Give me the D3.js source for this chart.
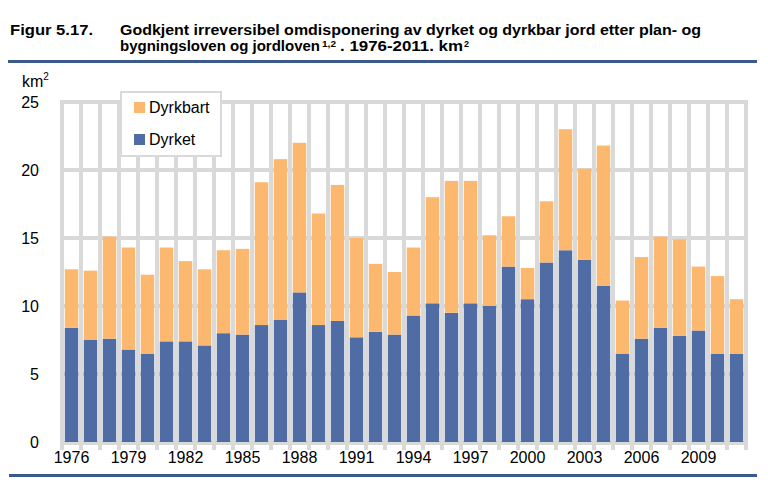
<!DOCTYPE html>
<html>
<head>
<meta charset="utf-8">
<script src="https://cdn.jsdelivr.net/npm/d3@7"></script>
<style>
  html, body { margin: 0; padding: 0; background: #fff; }
  svg { display: block; font-family: "Liberation Sans", Arial, sans-serif; }
</style>
</head>
<body>
<svg id="chart" width="768" height="482"></svg>
<script>
// ---- Data (km²) ----
const years = d3.range(1976, 2012);
const dyrket = [8.4, 7.5, 7.6, 6.8, 6.5, 7.4, 7.4, 7.1, 8.0, 7.9,
                8.6, 9.0, 11.0, 8.6, 8.9, 7.7, 8.1, 7.9, 9.3, 10.2,
                9.5, 10.2, 10.0, 12.9, 10.5, 13.2, 14.1, 13.4, 11.5, 6.5,
                7.6, 8.4, 7.8, 8.2, 6.5, 6.5];
const dyrkbart = [4.3, 5.1, 7.5, 7.5, 5.8, 6.9, 5.9, 5.6, 6.1, 6.3,
                  10.5, 11.8, 11.0, 8.2, 10.0, 7.3, 5.0, 4.6, 5.0, 7.8,
                  9.7, 9.0, 5.2, 3.7, 2.3, 4.5, 8.9, 6.7, 10.3, 3.9,
                  6.0, 6.7, 7.1, 4.7, 5.7, 4.0];
const yTicks = [0, 5, 10, 15, 20, 25];
const xTickYears = [1976, 1979, 1982, 1985, 1988, 1991, 1994, 1997, 2000, 2003, 2006, 2009];
const seriesNames = ["Dyrket", "Dyrkbart"];
const colors = { Dyrket: "#4F6CA5", Dyrkbart: "#FDB86F" };
const gridColor = "#D9D9D9";
const ruleColor = "#3B5A8C";

const svg = d3.select("#chart");

// ---- Title ----
const title = svg.append("g").attr("font-weight", "bold").attr("fill", "#000").attr("font-size", 14);
function fitText(txt, xPos, yPos, len, size) {
  const t = title.append("text").attr("x", xPos).attr("y", yPos).text(txt);
  if (size) t.attr("font-size", size);
  if (len) t.attr("textLength", len).attr("lengthAdjust", "spacingAndGlyphs");
  return t;
}
fitText("Figur 5.17.", 10, 35, 83);
fitText("Godkjent irreversibel omdisponering av dyrket og dyrkbar jord etter plan- og", 120, 35, 581);
fitText("bygningsloven og jordloven", 120, 51, 200);
fitText("1,2", 322, 46.5, 14, 9);
fitText(". 1976-2011. km", 340, 51, 123);
fitText("2", 464, 46.5, 0, 9);

// ---- Rules ----
svg.append("rect").attr("x", 8).attr("y", 60).attr("width", 749).attr("height", 3).attr("fill", ruleColor);
svg.append("rect").attr("x", 9).attr("y", 474).attr("width", 748).attr("height", 3).attr("fill", ruleColor);

// ---- Scales ----
const x = d3.scaleBand().domain(years).range([62, 746]).paddingInner(0.29).paddingOuter(0.145);
const y = d3.scaleLinear().domain([0, 25]).range([442, 102]);

// ---- Gridlines ----
const grid = svg.append("g").attr("stroke", gridColor).attr("stroke-width", 4);
const boundaries = years.map(d => x(d) + x.bandwidth() / 2 - x.step() / 2);
boundaries.push(x(years[years.length - 1]) + x.bandwidth() / 2 + x.step() / 2);
grid.selectAll("line.v").data(boundaries).join("line")
  .attr("class", "v")
  .attr("x1", d => d).attr("x2", d => d)
  .attr("y1", y(25) - 2).attr("y2", y(0) + 8);
grid.selectAll("line.h").data(yTicks).join("line")
  .attr("class", "h")
  .attr("x1", boundaries[0] - 2).attr("x2", boundaries[boundaries.length - 1] + 2)
  .attr("y1", d => y(d) + (d === 0 ? 1 : 0)).attr("y2", d => y(d) + (d === 0 ? 1 : 0));

// ---- Bars (stacked) ----
const rows = years.map((yr, i) => ({ year: yr, Dyrket: dyrket[i], Dyrkbart: dyrkbart[i] }));
const stack = d3.stack().keys(seriesNames)(rows);
svg.append("g").selectAll("g").data(stack).join("g")
  .attr("fill", s => colors[s.key])
  .selectAll("rect").data(s => s).join("rect")
  .attr("x", d => x(d.data.year))
  .attr("width", x.bandwidth())
  .attr("y", d => y(d[1]))
  .attr("height", d => y(d[0]) - y(d[1]));

// ---- Y axis labels ----
const yAxis = svg.append("g").attr("transform", "translate(39,0)")
  .call(d3.axisLeft(y).tickValues(yTicks).tickSize(0).tickPadding(0));
yAxis.select(".domain").remove();
yAxis.selectAll("text").attr("font-size", 16).attr("fill", "#000")
  .attr("font-family", "'Liberation Sans', Arial, sans-serif");

const unit = svg.append("text").attr("x", 22).attr("y", 87).attr("font-size", 16).attr("fill", "#000");
unit.append("tspan").text("km");
unit.append("tspan").attr("font-size", 10).attr("dy", -7).text("2");

// ---- X axis labels ----
const xAxis = svg.append("g").attr("transform", "translate(0,452)")
  .call(d3.axisBottom(x).tickValues(xTickYears).tickSize(0).tickPadding(0).tickFormat(d3.format("d")));
xAxis.select(".domain").remove();
xAxis.selectAll("text").attr("font-size", 16).attr("fill", "#000").attr("dy", "0.71em")
  .attr("font-family", "'Liberation Sans', Arial, sans-serif");

// ---- Legend ----
const legend = svg.append("g");
legend.append("rect").attr("x", 121).attr("y", 92).attr("width", 100).attr("height", 64)
  .attr("fill", "#fff").attr("stroke", gridColor).attr("stroke-width", 2);
const legendItems = ["Dyrkbart", "Dyrket"];
legendItems.forEach((name, i) => {
  const gy = 102 + i * 32;
  legend.append("rect").attr("x", 134).attr("y", gy).attr("width", 11).attr("height", 11).attr("fill", colors[name]);
  legend.append("text").attr("x", 149).attr("y", gy + 11).attr("font-size", 16).attr("fill", "#000").text(name);
});
</script>
</body>
</html>
